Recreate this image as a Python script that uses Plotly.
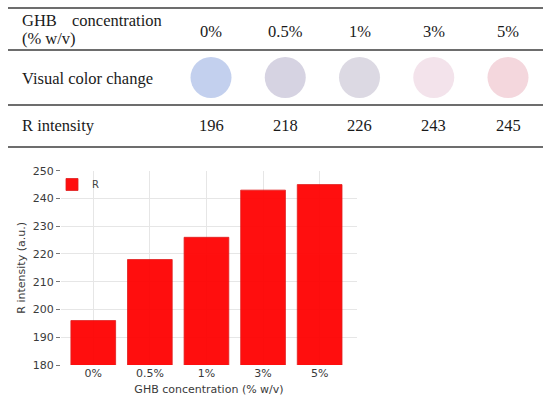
import plotly.graph_objects as go

# ---- data ----
categories = ["0%", "0.5%", "1%", "3%", "5%"]
r_intensity = [196, 218, 226, 243, 245]
circle_colors = ["#c3d0ee", "#d6d3e2", "#dcd9e3", "#f3e3eb", "#f4d7dd"]
row_labels = ["Visual color change", "R intensity"]
y_ticks = [180, 190, 200, 210, 220, 230, 240, 250]

W, H = 550, 400
def py(px):  # pixel-from-top -> paper y
    return 1 - px / H
def pxx(px):
    return px / W

idx = list(range(len(categories)))

fig = go.Figure()

# bar chart
fig.add_trace(go.Bar(
    x=idx, y=r_intensity, name="R", width=0.79,
    marker=dict(color="#ff0000", line=dict(color="#dd1010", width=0.8)),
    opacity=0.94, xaxis="x", yaxis="y", showlegend=True,
))

# table circles (on a hidden helper axis whose category spacing matches the table columns)
fig.add_trace(go.Scatter(
    x=idx, y=[0] * len(idx), mode="markers",
    marker=dict(size=41, color=circle_colors, line=dict(width=0)),
    xaxis="x2", yaxis="y2", showlegend=False, hoverinfo="skip",
))

col0, colstep = 211, 74.25
x2_range = [-col0 / colstep, (W - col0) / colstep]

tick_font = dict(family="DejaVu Sans", size=11, color="#3a3a3a")
fig.update_layout(
    width=W, height=H, margin=dict(l=0, r=0, t=0, b=0),
    paper_bgcolor="white", plot_bgcolor="white",
    xaxis=dict(
        domain=[pxx(61), pxx(357)], range=[-0.57, 4.66],
        tickmode="array", tickvals=idx, ticktext=categories,
        showgrid=True, gridcolor="#e6e6e6", gridwidth=1,
        ticks="", tickfont=tick_font, zeroline=False, showline=False,
        title=dict(text="GHB concentration (% w/v)", font=tick_font, standoff=6),
        automargin=False,
    ),
    yaxis=dict(
        domain=[py(365), py(170.7)], range=[180, 250],
        tickmode="array", tickvals=y_ticks,
        showgrid=True, gridcolor="#e6e6e6", gridwidth=1,
        ticks="outside", ticklen=4, tickcolor="#777", tickwidth=1,
        tickfont=tick_font, zeroline=False, showline=False,
        title=dict(text="R intensity (a.u.)", font=tick_font, standoff=4),
        automargin=False,
    ),
    xaxis2=dict(domain=[0, 1], range=x2_range, visible=False, anchor="y2"),
    yaxis2=dict(domain=[py(105), py(50)], range=[-1, 1], visible=False, anchor="x2"),
    legend=dict(
        x=pxx(52), y=py(170), xanchor="left", yanchor="top",
        bgcolor="rgba(255,255,255,0)", font=dict(family="DejaVu Sans", size=10, color="#444"),
        itemwidth=30,
    ),
    showlegend=True,
)

# table rules
shapes = []
for yy in [8, 50, 105, 147]:
    shapes.append(dict(type="line", xref="paper", yref="paper",
                       x0=pxx(8), x1=pxx(543), y0=py(yy), y1=py(yy),
                       line=dict(color="#3c3c3c", width=1.6)))
fig.update_layout(shapes=shapes)

serif = dict(family="Liberation Serif", size=16.5, color="#1a1a1a")
ann = []
ann.append(dict(text="GHB", x=pxx(20), y=py(21), xref="paper", yref="paper",
                xanchor="left", yanchor="middle", showarrow=False, font=serif))
ann.append(dict(text="concentration", x=pxx(164), y=py(21), xref="paper", yref="paper",
                xanchor="right", yanchor="middle", showarrow=False, font=serif))
ann.append(dict(text="(% w/v)", x=pxx(20), y=py(38.5), xref="paper", yref="paper",
                xanchor="left", yanchor="middle", showarrow=False, font=serif))
ann.append(dict(text=row_labels[0], x=pxx(20), y=py(78), xref="paper", yref="paper",
                xanchor="left", yanchor="middle", showarrow=False, font=serif))
ann.append(dict(text=row_labels[1], x=pxx(20), y=py(126), xref="paper", yref="paper",
                xanchor="left", yanchor="middle", showarrow=False, font=serif))
for i, (c, v) in enumerate(zip(categories, r_intensity)):
    ann.append(dict(text=c, x=i, xref="x2", y=py(31), yref="paper",
                    xanchor="center", yanchor="middle", showarrow=False, font=serif))
    ann.append(dict(text=str(v), x=i, xref="x2", y=py(126), yref="paper",
                    xanchor="center", yanchor="middle", showarrow=False, font=serif))
fig.update_layout(annotations=ann)

fig.write_html("out.html", config={"displayModeBar": False},
               post_script="document.body.style.margin='0';")
